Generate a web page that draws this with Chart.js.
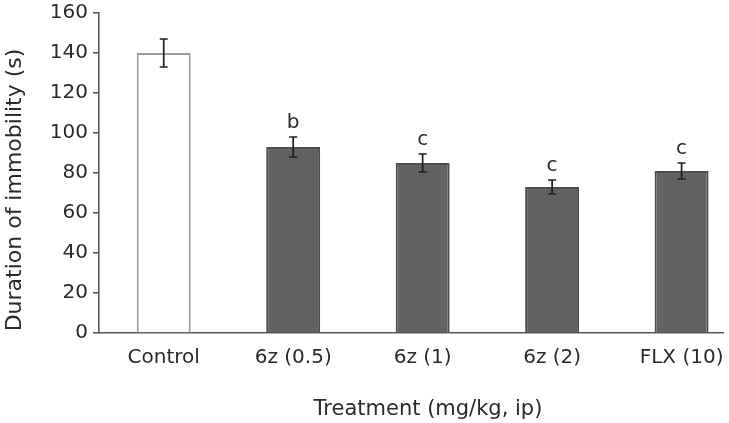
<!DOCTYPE html>
<html>
<head>
<meta charset="utf-8">
<script src="https://cdn.jsdelivr.net/npm/chart.js@4"></script>
<style>
  html, body { margin: 0; padding: 0; background: #fff; overflow: hidden; }
  #wrap { width: 729px; height: 423px; }
</style>
</head>
<body>
<div id="wrap"><canvas id="myChart"></canvas></div>
<script>
const categories = ['Control', '6z (0.5)', '6z (1)', '6z (2)', 'FLX (10)'];
const means = [140, 93, 85, 73, 81];
const errors = [7, 5, 4.5, 3.5, 4];
const marks = ['', 'b', 'c', 'c', 'c'];
const yTicks = [0, 20, 40, 60, 80, 100, 120, 140, 160];

const FONT = 'DejaVu Sans';
const TEXT = '#2a2a2a';
const AXIS = '#5a5a5a';

// error bars, significance letters and the two axis titles
const extras = {
  id: 'extras',
  afterDatasetsDraw(chart) {
    const ctx = chart.ctx;
    const y = chart.scales.y;
    const bars = chart.getDatasetMeta(0).data;
    ctx.save();
    ctx.strokeStyle = '#1e1e1e';
    ctx.lineWidth = 1.7;
    bars.forEach((bar, i) => {
      const top = y.getPixelForValue(means[i] + errors[i]);
      const bot = y.getPixelForValue(means[i] - errors[i]);
      ctx.beginPath();
      ctx.moveTo(bar.x, top); ctx.lineTo(bar.x, bot);
      ctx.moveTo(bar.x - 4, top); ctx.lineTo(bar.x + 4, top);
      ctx.moveTo(bar.x - 4, bot); ctx.lineTo(bar.x + 4, bot);
      ctx.stroke();
      if (marks[i]) {
        ctx.fillStyle = TEXT;
        ctx.font = '20px ' + FONT;
        ctx.textAlign = 'center';
        ctx.textBaseline = 'middle';
        ctx.fillText(marks[i], bar.x, top - 14);
      }
    });
    const a = chart.chartArea;
    ctx.fillStyle = TEXT;
    ctx.font = '21px ' + FONT;
    ctx.textAlign = 'center';
    ctx.textBaseline = 'middle';
    ctx.fillText('Treatment (mg/kg, ip)', (a.left + a.right) / 2 + 17, 410);
    ctx.translate(15, (a.top + a.bottom) / 2 + 17);
    ctx.rotate(-Math.PI / 2);
    ctx.font = '22px ' + FONT;
    ctx.fillText('Duration of immobility (s)', 0, 0);
    ctx.restore();
  }
};

new Chart(document.getElementById('myChart'), {
  type: 'bar',
  data: {
    datasets: [{
      data: means.map((v, i) => ({ x: i, y: v })),
      backgroundColor: means.map((v, i) => i === 0 ? '#ffffff' : '#626262'),
      borderColor: means.map((v, i) => i === 0 ? '#9a9a9a' : '#4e4e4e'),
      borderWidth: 2,
      categoryPercentage: 1,
      barPercentage: 0.417
    }]
  },
  options: {
    responsive: true,
    maintainAspectRatio: false,
    animation: false,
    layout: { padding: { top: 13, right: 6, left: 0, bottom: 0 } },
    plugins: { legend: { display: false }, tooltip: { enabled: false } },
    scales: {
      x: {
        type: 'linear',
        offset: false,
        min: -0.5,
        max: 4.32,
        afterBuildTicks: s => { s.ticks = categories.map((c, i) => ({ value: i })); },
        afterFit: s => { s.height = 90; },
        grid: { display: true, drawOnChartArea: false, drawTicks: true, tickLength: 13, color: 'rgba(0,0,0,0)', offset: false },
        border: { display: true, color: AXIS, width: 1.6 },
        ticks: {
          padding: 0,
          color: TEXT,
          font: { family: FONT, size: 20 },
          maxRotation: 0,
          autoSkip: false,
          callback: v => categories[v]
        }
      },
      y: {
        min: 0,
        max: 160,
        afterBuildTicks: s => { s.ticks = yTicks.map(v => ({ value: v })); },
        afterFit: s => { s.width = 99; },
        grid: { drawOnChartArea: false, drawTicks: true, tickLength: 6, color: AXIS, lineWidth: 1.6 },
        border: { display: true, color: AXIS, width: 1.6 },
        ticks: {
          padding: 5,
          color: TEXT,
          font: { family: FONT, size: 20, lineHeight: 0.6 }
        }
      }
    }
  },
  plugins: [extras]
});
</script>
</body>
</html>
